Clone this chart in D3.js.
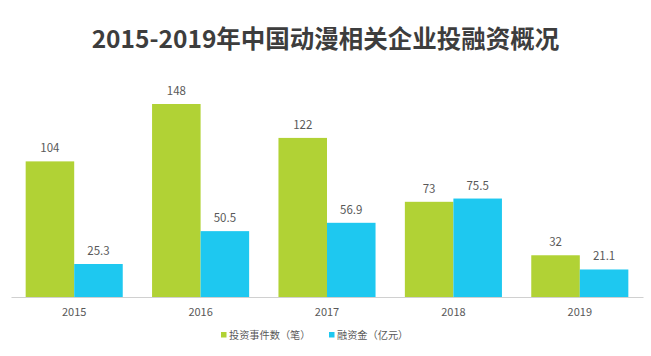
<!DOCTYPE html>
<html><head><meta charset="utf-8">
<script src="https://cdn.jsdelivr.net/npm/d3@7"></script>
<style>body{margin:0;background:#fff}svg{display:block}</style>
</head><body>
<script>
const title = "2015-2019年中国动漫相关企业投融资概况";
const categories = ["2015","2016","2017","2018","2019"];
const seriesNames = ["投资事件数（笔）","融资金（亿元）"];
const dealCounts = [104,148,122,73,32];
const fundingAmounts = [25.3,50.5,56.9,75.5,21.1];
const valueLabels = [["104","148","122","73","32"],["25.3","50.5","56.9","75.5","21.1"]];
const colors = ["#b1d235","#1ec8f0"];

const W=651,H=356;
const svg=d3.select("body").append("svg").attr("width",W).attr("height",H);
const font="'Noto Sans CJK SC','Noto Sans',sans-serif";

svg.append("text").attr("x",325.5).attr("y",48).attr("text-anchor","middle")
  .attr("font-family",font).attr("font-weight","bold").attr("font-size",24.5)
  .attr("fill","#3d3d3d").text(title);

const x=d3.scaleBand().domain(categories).range([11,643]).paddingInner(0.232).paddingOuter(0.116);
const xs=d3.scaleBand().domain([0,1]).range([0,x.bandwidth()]);
const y=d3.scaleLinear().domain([0,148]).range([297,104]);

const series=[dealCounts,fundingAmounts];
series.forEach((vals,si)=>{
  const g=svg.append("g");
  g.selectAll("rect").data(vals).join("rect")
    .attr("x",(d,i)=>x(categories[i])+xs(si))
    .attr("y",d=>y(d)).attr("width",xs.bandwidth()).attr("height",d=>y(0)-y(d))
    .attr("fill",colors[si]);
  g.selectAll("text").data(vals).join("text")
    .attr("x",(d,i)=>x(categories[i])+xs(si)+xs.bandwidth()/2)
    .attr("y",d=>y(d)-9).attr("text-anchor","middle")
    .attr("font-family",font).attr("font-size",11.5).attr("fill","#595959")
    .text((d,i)=>valueLabels[si][i]);
});

const axis=svg.append("g").attr("transform","translate(0,297)")
  .call(d3.axisBottom(x).tickSize(0).tickPadding(11));
axis.select(".domain").attr("stroke","#d0d0d0").attr("stroke-width",1.2);
axis.selectAll("text").attr("font-family",font).attr("font-size",11).attr("fill","#595959");

const legendItems=[{x:221,label:seriesNames[0],c:colors[0]},{x:329,label:seriesNames[1],c:colors[1]}];
const lg=svg.append("g");
legendItems.forEach(it=>{
  lg.append("rect").attr("x",it.x).attr("y",332).attr("width",5.5).attr("height",5.5).attr("fill",it.c);
  lg.append("text").attr("x",it.x+8).attr("y",338.5).attr("font-family",font).attr("font-size",10.2)
    .attr("fill","#595959").text(it.label);
});
</script>
</body></html>
